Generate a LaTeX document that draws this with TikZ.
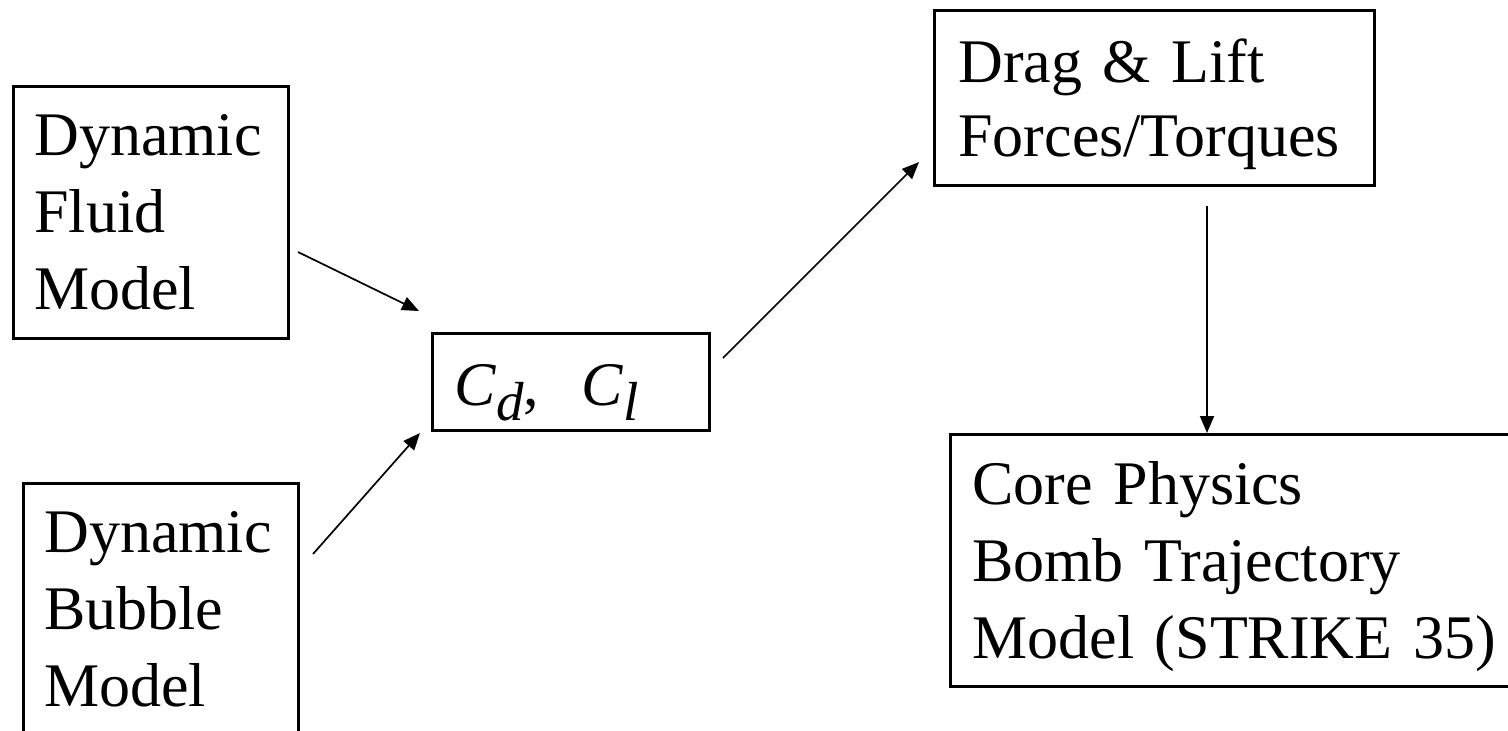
\documentclass[tikz,border=0pt]{standalone}
\usepackage{fontspec}
\setmainfont{Liberation Serif}
\usetikzlibrary{arrows.meta}
\hyphenpenalty=10000
\exhyphenpenalty=10000
\newcommand{\nodepth}[1]{\raisebox{0pt}[\height][0pt]{#1}}
\newcommand{\subx}[1]{\raisebox{-7.5pt}{\fontsize{27.5}{27.5}\selectfont\textit{#1}}}
\begin{document}
\begin{tikzpicture}[x=0.5pt,y=-0.5pt,
  box/.style={draw=black, line width=1.35pt, rectangle, anchor=north west,
    inner ysep=0pt, align=left, font=\fontsize{31}{38.5}\selectfont},
  arr/.style={-{Triangle[length=8.5pt,width=7pt]}, line width=0.85pt}]
\useasboundingbox (0,0) rectangle (1508,730);
\fill[white] (0,0) rectangle (1508,730);
\clip (0,0) rectangle (1508,730);

\node[box, minimum width=137.5pt, minimum height=126pt, inner xsep=10.5pt, text width=116.5pt]
  (fluid) at (12,85) {Dynamic\\Fluid\\Model};
\node[box, minimum width=137.5pt, minimum height=126pt, inner xsep=10.5pt, text width=116.5pt]
  (bubble) at (22,482) {Dynamic\\Bubble\\Model};
\node[box, minimum width=138.5pt, minimum height=48.5pt, inner xsep=11pt, text width=116.5pt]
  (coef) at (431,332) {\raisebox{0pt}[\dimexpr\height+3.5pt\relax][0pt]{\textit{C}\subx{d},\hspace{21pt}\textit{C}\subx{l}}};
\node[box, minimum width=220pt, minimum height=87.5pt, inner xsep=12pt, text width=196pt,
  font=\fontsize{31}{37}\selectfont]
  (drag) at (933,9) {Drag \& Lift\\\nodepth{Forces/Torques}};
\node[box, minimum width=300pt, minimum height=126pt, inner xsep=11pt, text width=278pt]
  (core) at (949,433) {Core Physics\\Bomb Trajectory\\\nodepth{Model (STRIKE 35)}};

\coordinate (a1s) at (298,252);
\coordinate (a1e) at (419,311);
\coordinate (a2s) at (313,554);
\coordinate (a2e) at (420,433);
\coordinate (a3s) at (723,358);
\coordinate (a3e) at (919,162);
\coordinate (a4s) at (1207,206);

\draw[arr] (a1s) -- (a1e);
\draw[arr] (a2s) -- (a2e);
\draw[arr] (a3s) -- (a3e);
\draw[arr] (a4s) -- (a4s |- core.north);
\end{tikzpicture}
\end{document}
